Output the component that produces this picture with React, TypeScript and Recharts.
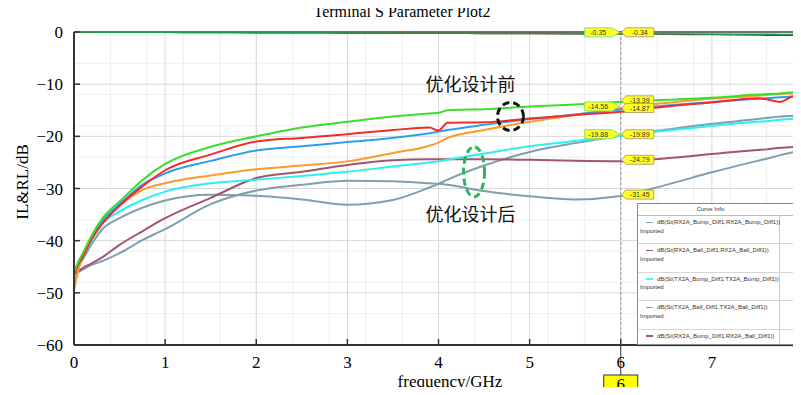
import { CartesianGrid, Line, LineChart, ReferenceDot, ReferenceLine, XAxis, YAxis } from "recharts";

// frequency points (GHz)
const freq = [0, 0.05, 0.1, 0.2, 0.3, 0.5, 0.75, 1, 1.5, 2, 2.5, 3, 3.5, 3.9, 4, 4.1, 4.5, 5, 5.5, 6, 6.5, 7, 7.5, 7.6, 7.75, 7.85, 8];

// return loss, before optimisation
const greenRL = [-46, -44, -42.3, -38.8, -36, -32.5, -28.4, -25.3, -22, -20, -18.3, -17.2, -16.2, -15.6, -15.5, -15, -14.8, -14.3, -13.9, -13.39, -13, -12.6, -12, -11.9, -11.8, -11.6, -11.4];
const redRL = [-46.5, -44.5, -43, -39.5, -37, -33.3, -29.6, -26.5, -23.5, -21, -20.3, -19.6, -18.8, -18.3, -18.9, -17.4, -17.3, -16.6, -15.9, -15.3, -14.3, -13.5, -12.7, -12.9, -13.4, -12.6, -11.8];
const blueRL = [-46, -44, -42.5, -39, -36.5, -33, -29.3, -27.1, -24.7, -22.7, -21.9, -21.1, -20.3, -19.4, -19.1, -18.8, -17.8, -16.7, -15.8, -14.87, -14.1, -13.4, -12.8, -12.7, -12.5, -12.4, -12.3];
const orangeRL = [-49.5, -45.5, -42.8, -39, -36.3, -33.2, -30.3, -29, -27.5, -26.3, -25.6, -24.8, -23.2, -21.8, -21.2, -20.3, -18.8, -17.2, -15.9, -14.56, -13.6, -12.8, -12.2, -12.1, -11.9, -11.8, -11.6];

// return loss, after optimisation
const cyanRL = [-46.5, -44.5, -43, -39.8, -37, -34.4, -32.2, -30.6, -29, -28.3, -27.6, -26.8, -25.8, -25, -24.8, -24.5, -23.3, -21.9, -20.9, -19.89, -18.9, -18, -17.2, -17.1, -16.8, -16.7, -16.5];
const mauveRL = [-46.3, -45.8, -45.2, -44.3, -43.3, -40.8, -38.2, -35.7, -31.8, -28, -26.8, -25.5, -24.6, -24.4, -24.4, -24.4, -24.4, -24.5, -24.7, -24.79, -24.2, -23.4, -22.6, -22.5, -22.2, -22.1, -21.9];
const grayA = [-49, -45, -43.5, -40.5, -38, -35.7, -33.7, -32.3, -31.2, -31.4, -32.1, -33.1, -32.2, -29.8, -29.1, -28.3, -25.6, -23, -21.3, -19.88, -18.7, -17.6, -16.7, -16.5, -16.2, -16.1, -15.9];
const grayB = [-46.5, -46, -45.5, -44.6, -44, -42.4, -39.9, -37.8, -33, -30.4, -29.3, -28.5, -28.6, -29, -29.1, -29.3, -30.5, -31.5, -32.1, -31.45, -29.3, -26.9, -24.7, -24.3, -23.6, -23.2, -22.6];

// insertion loss near 0 dB
const ilGreen = [0, -0.01, -0.01, -0.02, -0.03, -0.04, -0.05, -0.06, -0.09, -0.12, -0.15, -0.18, -0.21, -0.23, -0.24, -0.25, -0.27, -0.3, -0.33, -0.35, -0.38, -0.41, -0.44, -0.45, -0.46, -0.47, -0.48];
const ilRed = [0, -0.01, -0.01, -0.02, -0.03, -0.04, -0.05, -0.06, -0.09, -0.12, -0.15, -0.18, -0.21, -0.23, -0.24, -0.25, -0.27, -0.3, -0.32, -0.34, -0.42, -0.5, -0.58, -0.6, -0.62, -0.64, -0.66];

const xTicks = [0, 1, 2, 3, 4, 5, 6, 7, 8];
const yTicks = [-60, -50, -40, -30, -20, -10, 0];
const minorX = [0, 0.2, 0.4, 0.6, 0.8, 1, 1.2, 1.4, 1.6, 1.8, 2, 2.2, 2.4, 2.6, 2.8, 3, 3.2, 3.4, 3.6, 3.8, 4, 4.2, 4.4, 4.6, 4.8, 5, 5.2, 5.4, 5.6, 5.8, 6, 6.2, 6.4, 6.6, 6.8, 7, 7.2, 7.4, 7.6, 7.8, 8];
const minorY = [-60, -58, -56, -54, -52, -50, -48, -46, -44, -42, -40, -38, -36, -34, -32, -30, -28, -26, -24, -22, -20, -18, -16, -14, -12, -10, -8, -6, -4, -2, 0];

const seriesList = [
  { key: "ilRed", values: ilRed, color: "#8e2435", width: 1.5 },
  { key: "ilGreen", values: ilGreen, color: "#1f9c48", width: 1.5 },
  { key: "grayB", values: grayB, color: "#7f9fb0", width: 2 },
  { key: "grayA", values: grayA, color: "#7f9fb0", width: 2 },
  { key: "mauve", values: mauveRL, color: "#a0566e", width: 2 },
  { key: "cyan", values: cyanRL, color: "#2cf0f0", width: 2 },
  { key: "orange", values: orangeRL, color: "#ff9a2a", width: 2 },
  { key: "blue", values: blueRL, color: "#2a9ff0", width: 2 },
  { key: "red", values: redRL, color: "#f52a2a", width: 2 },
  { key: "green", values: greenRL, color: "#38e02a", width: 2 },
];

const chartData = freq.map((f, i) => {
  const row: Record<string, number> = { f };
  seriesList.forEach((s) => {
    row[s.key] = s.values[i];
  });
  return row;
});

const markerFreq = 6;
const markerTags = [
  { key: "ilGreen", side: "left" },
  { key: "ilRed", side: "right" },
  { key: "green", side: "right" },
  { key: "blue", side: "right" },
  { key: "orange", side: "left" },
  { key: "grayA", side: "left" },
  { key: "cyan", side: "right" },
  { key: "mauve", side: "right" },
  { key: "grayB", side: "right" },
];

const notes = [
  { f: 4.35, db: -10.2, text: "优化设计前" },
  { f: 4.35, db: -35.1, text: "优化设计后" },
];
const rings = [
  { f: 4.79, db: -16.2, rx: 13, ry: 14, color: "#111111" },
  { f: 4.39, db: -26.8, rx: 10.5, ry: 25, color: "#2bb55a" },
];

const legendRows = [
  { name: "dB(St(RX2A_Bump_Diff1,RX2A_Bump_Diff1))", color: "#7fa5b8", note: "Imported" },
  { name: "dB(St(RX2A_Ball_Diff1,RX2A_Ball_Diff1))", color: "#a0566e", note: "Imported" },
  { name: "dB(St(TX2A_Bump_Diff1,TX2A_Bump_Diff1))", color: "#33ffff", note: "Imported" },
  { name: "dB(St(TX2A_Ball_Diff1,TX2A_Ball_Diff1))", color: "#7fa5b8", note: "Imported" },
  { name: "dB(St(RX2A_Bump_Diff1,RX2A_Ball_Diff1))", color: "#a0566e", note: "" },
];

const serif = '"Liberation Serif", "Times New Roman", serif';
const sans = '"Liberation Sans", Arial, sans-serif';

const fmtY = (v: number) => (v < 0 ? `\u2212${-v}` : `${v}`);

function MarkerTag(props: any) {
  const { cx, cy, text, side } = props;
  if (cx == null || cy == null) return null;
  const h = 9;
  const yc = cy - 1.5;
  const top = yc - h / 2;
  const bot = yc + h / 2;
  let pts = "";
  let tx = 0;
  if (side === "left") {
    const x1 = cx - 36;
    const x2 = cx - 9;
    pts = `${x1},${top} ${x2},${top} ${cx - 1},${yc} ${x2},${bot} ${x1},${bot}`;
    tx = (x1 + x2) / 2;
  } else {
    const x1 = cx + 5;
    const x2 = cx + 33;
    pts = `${cx + 1},${yc} ${x1},${top} ${x2},${top} ${x2},${bot} ${x1},${bot}`;
    tx = (x1 + x2) / 2;
  }
  return (
    <g>
      <polygon points={pts} fill="#ffff22" stroke={side === "left" ? "#7de86a" : "#b8a868"} strokeWidth={1} />
      <text x={tx} y={yc + 2.5} textAnchor="middle" fontSize={7} fontFamily={sans} fill="#333">
        {text}
      </text>
    </g>
  );
}

function MarkerFoot(props: any) {
  const vb = props.viewBox;
  if (!vb) return null;
  const x = vb.x;
  const yb = vb.y + vb.height;
  return (
    <g>
      <line x1={x} y1={yb} x2={x} y2={yb + 30} stroke="#333" strokeWidth={1} />
      <rect x={x - 17} y={yb + 30} width={34} height={18} fill="#ffff00" stroke="#333" strokeWidth={1} />
      <text x={x} y={yb + 45} textAnchor="middle" fontSize={17} fontFamily={serif} fill="#000">
        6
      </text>
    </g>
  );
}

function CurveInfo() {
  return (
    <div
      style={{
        position: "absolute",
        left: 637,
        top: 203,
        width: 159,
        height: 140,
        border: "1px solid #8c8c8c",
        background: "#fff",
        overflow: "hidden",
        fontFamily: sans,
        fontSize: 6,
        color: "#333",
        boxShadow: "1px 1px 2px rgba(0,0,0,0.25)",
      }}
    >
      <div style={{ position: "absolute", left: 141, top: 11, width: 1, height: 140, background: "#c8c8c8" }} />
      <div style={{ height: 11, lineHeight: "11px", textAlign: "center", borderBottom: "1px solid #bdbdbd", paddingRight: 14 }}>
        Curve Info
      </div>
      {legendRows.map((r) => (
        <div key={r.name} style={{ position: "relative", height: 27.4, borderBottom: "1px solid #d6d6d6" }}>
          <div style={{ position: "absolute", left: 8, top: 5.5, width: 7, height: 1.5, background: r.color }} />
          <div style={{ position: "absolute", left: 19, top: 3, whiteSpace: "nowrap" }}>{r.name}</div>
          {r.note ? <div style={{ position: "absolute", left: 2, top: 11.5 }}>{r.note}</div> : null}
        </div>
      ))}
    </div>
  );
}

export default function App() {
  const at6 = chartData[freq.indexOf(markerFreq)];
  return (
    <div style={{ position: "relative", width: 801, height: 395, margin: -8, overflow: "hidden", background: "#fff" }}>
      <LineChart width={805} height={395} data={chartData} margin={{ top: 32, right: 2, left: 0, bottom: 0 }}>
        <XAxis xAxisId="minor" type="number" dataKey="f" domain={[0, 8]} ticks={minorX} allowDataOverflow hide />
        <YAxis yAxisId="minor" type="number" domain={[-60, 0]} ticks={minorY} allowDataOverflow hide />
        <CartesianGrid xAxisId="minor" yAxisId="minor" stroke="#eeeeee" strokeWidth={1} />
        <CartesianGrid stroke="#d8d8d8" strokeWidth={1} />
        <XAxis
          type="number"
          dataKey="f"
          domain={[0, 8]}
          ticks={xTicks}
          height={50}
          tickSize={-6}
          tickMargin={17}
          axisLine={{ stroke: "#3a3333", strokeWidth: 2 }}
          tickLine={{ stroke: "#3a3333", strokeWidth: 1.5 }}
          tick={{ fontSize: 17, fontFamily: serif, fill: "#000" }}
          allowDataOverflow
        />
        <YAxis
          type="number"
          domain={[-60, 0]}
          ticks={yTicks}
          width={74}
          tickSize={-6}
          tickMargin={17}
          tickFormatter={fmtY}
          axisLine={{ stroke: "#3a3333", strokeWidth: 2 }}
          tickLine={{ stroke: "#3a3333", strokeWidth: 1.5 }}
          tick={{ fontSize: 17, fontFamily: serif, fill: "#000" }}
          allowDataOverflow
        />
        <ReferenceLine y={0} stroke="#4a4a4a" strokeWidth={1.5} />
        <ReferenceLine x={markerFreq} stroke="#9a9a9a" strokeDasharray="3 2" label={<MarkerFoot />} />
        {seriesList.map((s) => (
          <Line
            key={s.key}
            type="monotone"
            dataKey={s.key}
            stroke={s.color}
            strokeWidth={s.width}
            dot={false}
            activeDot={false}
            isAnimationActive={false}
          />
        ))}
        {rings.map((r, i) => (
          <ReferenceDot
            key={`ring${i}`}
            x={r.f}
            y={r.db}
            r={0}
            shape={(p: any) => (
              <ellipse cx={p.cx} cy={p.cy} rx={r.rx} ry={r.ry} fill="none" stroke={r.color} strokeWidth={3} strokeDasharray="7 4" />
            )}
          />
        ))}
        {notes.map((n) => (
          <ReferenceDot
            key={n.text}
            x={n.f}
            y={n.db}
            r={0}
            shape={(p: any) => (
              <text x={p.cx} y={p.cy + 6} textAnchor="middle" fontSize={18} fontFamily='"Noto Sans CJK SC", sans-serif' fill="#111">
                {n.text}
              </text>
            )}
          />
        ))}
        {markerTags.map((t) => (
          <ReferenceDot
            key={`tag-${t.key}`}
            x={markerFreq}
            y={at6[t.key]}
            r={0}
            shape={(p: any) => <MarkerTag cx={p.cx} cy={p.cy} side={t.side} text={at6[t.key].toFixed(2)} />}
          />
        ))}
      </LineChart>
      <div style={{ position: "absolute", left: 402, top: 12, transform: "translate(-50%, -50%)", fontFamily: serif, fontSize: 16, whiteSpace: "nowrap", lineHeight: 1 }}>
        Terminal S Parameter Plot2
      </div>
      <div style={{ position: "absolute", left: 450, top: 381, transform: "translate(-50%, -50%)", fontFamily: serif, fontSize: 17, whiteSpace: "nowrap", lineHeight: 1 }}>
        frequency/GHz
      </div>
      <div style={{ position: "absolute", left: 22, top: 182, transform: "translate(-50%, -50%) rotate(-90deg)", fontFamily: serif, fontSize: 17, whiteSpace: "nowrap", lineHeight: 1 }}>
        IL&amp;RL/dB
      </div>
      <CurveInfo />
    </div>
  );
}
